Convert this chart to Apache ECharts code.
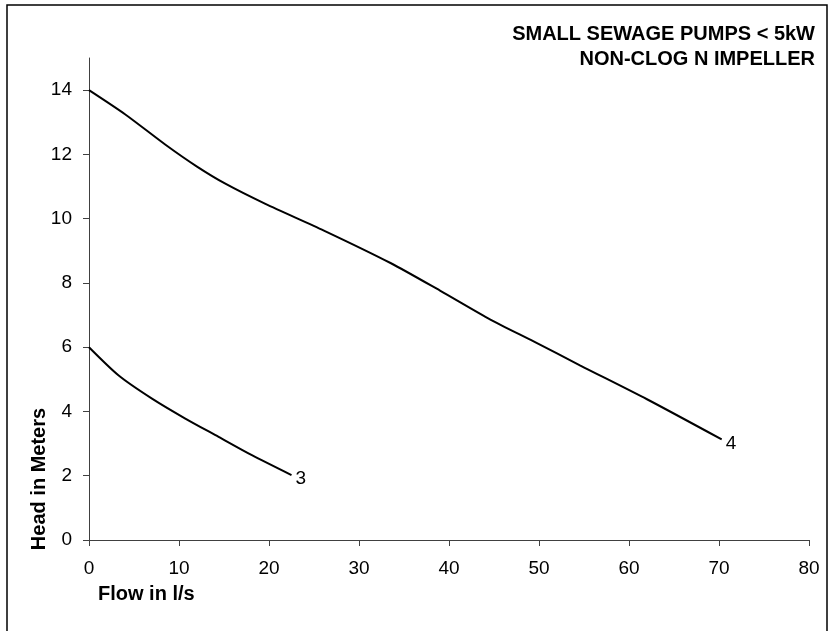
<!DOCTYPE html>
<html>
<head>
<meta charset="utf-8">
<script src="https://cdn.jsdelivr.net/npm/echarts@6/dist/echarts.min.js"></script>
<style>
html,body{margin:0;padding:0;background:#fff;}
#chart{width:835px;height:631px;}
</style>
</head>
<body>
<div id="chart"></div>
<script>
// Data
const pump3Flow = [0, 3.3, 7.0, 10.7, 14.4, 18.1, 22.5];
const pump3Head = [6.0, 5.12, 4.40, 3.78, 3.21, 2.64, 2.02];
const pump4Flow = [0, 4.0, 8.5, 12.0, 15.2, 19.6, 26.1, 33.5, 39.0, 44.6, 49.4, 54.6, 62.0, 70.3];
const pump4Head = [14.0, 13.25, 12.3, 11.62, 11.08, 10.46, 9.63, 8.62, 7.76, 6.86, 6.18, 5.43, 4.38, 3.13];
const curveNames = ['3', '4'];
const yTicks = [0, 2, 4, 6, 8, 10, 12, 14];
const xTicks = [0, 10, 20, 30, 40, 50, 60, 70, 80];
const titleLines = ['SMALL SEWAGE PUMPS < 5kW', 'NON-CLOG N IMPELLER'];
const xTitle = 'Flow in l/s';
const yTitle = 'Head in Meters';

const FONT = '"Liberation Sans", Arial, Helvetica, sans-serif';

function toPoints(xs, ys) {
  return xs.map((x, i) => [x, ys[i]]);
}

function curve(name, xs, ys) {
  return {
    name: name, type: 'line', smooth: 0.25, showSymbol: false, symbol: 'none',
    lineStyle: { color: '#000', width: 2 },
    endLabel: {
      show: true, formatter: name, distance: 4, offset: [0, 4],
      color: '#000', fontSize: 19, fontFamily: FONT
    },
    data: toPoints(xs, ys)
  };
}

const chart = echarts.init(document.getElementById('chart'), null, { renderer: 'canvas' });
const axisColor = '#404040';

chart.setOption({
  animation: false,
  backgroundColor: '#fff',
  grid: { left: 89, right: 26, top: 58, bottom: 91, containLabel: false },
  xAxis: {
    type: 'value', min: 0, max: 80, interval: 10,
    axisLine: { show: true, onZero: false, lineStyle: { color: axisColor, width: 1 } },
    axisTick: { show: true, inside: false, length: 6, lineStyle: { color: axisColor } },
    axisLabel: { color: '#000', fontSize: 19, fontFamily: FONT, margin: 19,
      customValues: xTicks },
    splitLine: { show: false }
  },
  yAxis: {
    type: 'value', min: 0, max: 15, interval: 2,
    axisLine: { show: true, onZero: false, lineStyle: { color: axisColor, width: 1 } },
    axisTick: { show: true, inside: false, length: 6, lineStyle: { color: axisColor },
      customValues: yTicks },
    axisLabel: { color: '#000', fontSize: 19, fontFamily: FONT, margin: 17,
      customValues: yTicks },
    splitLine: { show: false }
  },
  series: [
    curve(curveNames[0], pump3Flow, pump3Head),
    curve(curveNames[1], pump4Flow, pump4Head)
  ],
  graphic: [
    {
      type: 'rect', silent: true,
      shape: { x: 7, y: 5, width: 820, height: 640 },
      style: { fill: 'none', stroke: '#000', lineWidth: 1.5 }
    },
    {
      type: 'text', x: 815, y: 34,
      style: { text: titleLines[0], fill: '#000', font: 'bold 20px ' + FONT,
        textAlign: 'right', textVerticalAlign: 'middle' }
    },
    {
      type: 'text', x: 815, y: 59,
      style: { text: titleLines[1], fill: '#000', font: 'bold 20px ' + FONT,
        textAlign: 'right', textVerticalAlign: 'middle' }
    },
    {
      type: 'text', x: 98, y: 594,
      style: { text: xTitle, fill: '#000', font: 'bold 20px ' + FONT,
        textAlign: 'left', textVerticalAlign: 'middle' }
    },
    {
      type: 'text', x: 39, y: 479, rotation: Math.PI / 2,
      style: { text: yTitle, fill: '#000', font: 'bold 20px ' + FONT,
        textAlign: 'center', textVerticalAlign: 'middle' }
    }
  ]
});
</script>
</body>
</html>
